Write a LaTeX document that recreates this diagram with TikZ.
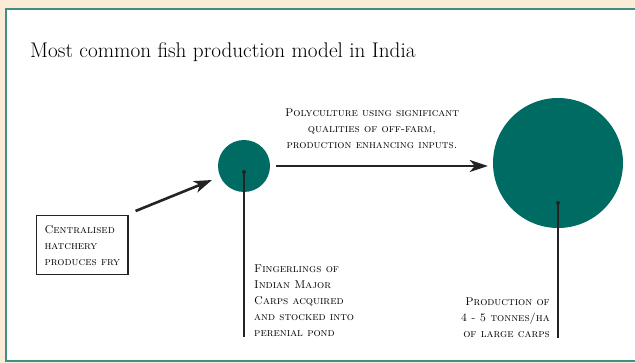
\documentclass[tikz,border=0pt]{standalone}
\usetikzlibrary{arrows.meta,positioning}
\definecolor{pagecream}{HTML}{FCEBD6}
\definecolor{frameteal}{HTML}{3F8F87}
\definecolor{pondteal}{HTML}{006B63}
\definecolor{inkgray}{RGB}{35,35,35}
\begin{document}
\begin{tikzpicture}[x=1pt,y=-1pt,
 lbl/.style={font=\fontsize{11.3}{16}\selectfont\scshape, inner sep=0pt},
 stem/.style={inkgray, line width=1.1pt},
 flow/.style={-{Stealth[length=18pt,width=12pt,inset=5pt]}, line width=2.6pt, inkgray},
 pond/.style={circle, fill=pondteal, inner sep=0pt},
]
 \useasboundingbox (0,0) rectangle (635,363);
 \fill[pagecream] (0,0) rectangle (635,363);
 \filldraw[fill=white, draw=frameteal, line width=1.5pt] (6,9) rectangle (642,361);
 % title
 \node[font=\fontsize{21.2}{25}\selectfont, anchor=base west, inner sep=0pt] (title) at (30,58) {Most common fish production model in India};
 % ponds: stocked (small) and harvested (large)
 \node[pond, minimum size=52pt] (fry) at (244,166) {};
 \node[pond, minimum size=130pt] (harvest) at (558,163) {};
 \coordinate (frydot) at (244,172);
 \coordinate (harvestdot) at (558,203);
 \fill[inkgray] (frydot) circle (2pt) (harvestdot) circle (2pt);
 % labels
 \node[lbl, draw=inkgray, line width=1.1pt, align=left, inner xsep=8pt, inner ysep=9.5pt, anchor=north west] (hatchery) at (36,215) {Centralised\\hatchery\\produces fry};
 \node[lbl, align=left, anchor=north west] (fingerlings) at (254,265) {Fingerlings of\\Indian Major\\Carps acquired\\and stocked into\\perenial pond};
 \node[lbl, align=right, anchor=north east] (yield) at (550,298) {Production of\\4 - 5 tonnes/ha\\of large carps};
 \node[lbl, align=center, anchor=north] (inputs) at (372,109) {Polyculture using significant\\qualities of off-farm,\\production enhancing inputs.};
 % arrows
 \draw[flow] ([shift={(7pt,4pt)}]hatchery.north east) -- ([shift={(-32pt,-14pt)}]fry.center);
 \draw[flow] ([xshift=6pt]fry.east) coordinate (flowstart) -- ([xshift=-5pt]harvest.west |- flowstart);
 % stems
 \draw[stem] (frydot) -- (frydot |- fingerlings.south);
 \draw[stem] (harvestdot) -- (harvestdot |- yield.south);
\end{tikzpicture}
\end{document}
